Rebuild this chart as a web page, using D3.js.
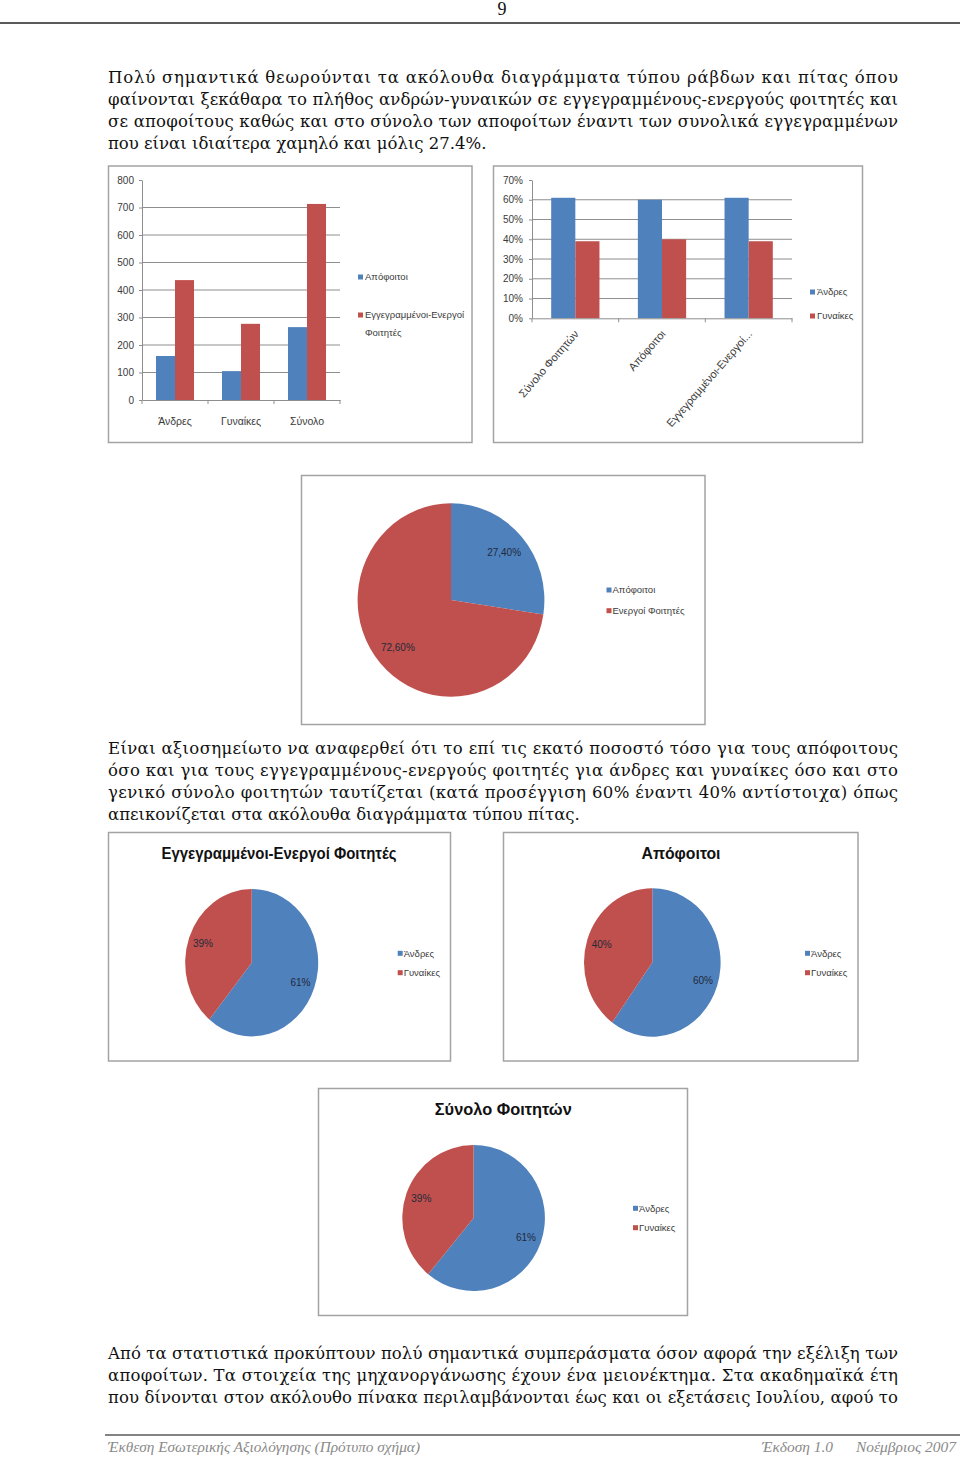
<!DOCTYPE html>
<html><head><meta charset="utf-8">
<script src="https://cdn.jsdelivr.net/npm/d3@7"></script>
<style>body{margin:0;background:#fff}svg{display:block}</style>
</head><body>
<svg id="page" width="960" height="1458"></svg>
<script>
// ---------- DATA ----------
const barCategories = ["Άνδρες", "Γυναίκες", "Σύνολο"];
const graduatesCount = [160, 105, 265];
const registeredCount = [436, 277, 713];
const countTicks = [0, 100, 200, 300, 400, 500, 600, 700, 800];
const countLegend = [["Απόφοιτοι"], ["Εγγεγραμμένοι-Ενεργοί", "Φοιτητές"]];

const shareCategories = ["Σύνολο Φοιτητών", "Απόφοιτοι", "Εγγεγραμμένοι-Ενεργοί..."];
const menShare = [61, 60, 61];
const womenShare = [39, 40, 39];
const shareTicks = [0, 10, 20, 30, 40, 50, 60, 70];
const sexLabels = ["Άνδρες", "Γυναίκες"];

const statusLabels = ["Απόφοιτοι", "Ενεργοί Φοιτητές"];
const statusShare = [27.4, 72.6];
const statusText = ["27,40%", "72,60%"];

const registeredSexShare = [61, 39];
const graduatesSexShare = [60, 40];
const totalSexShare = [61, 39];
const pieTitles = ["Εγγεγραμμένοι-Ενεργοί Φοιτητές", "Απόφοιτοι", "Σύνολο Φοιτητών"];

const paragraph1 = [
  "Πολύ σημαντικά θεωρούνται τα ακόλουθα διαγράμματα τύπου ράβδων και πίτας όπου",
  "φαίνονται ξεκάθαρα το πλήθος ανδρών-γυναικών σε εγγεγραμμένους-ενεργούς φοιτητές και",
  "σε αποφοίτους καθώς και στο σύνολο των αποφοίτων έναντι των συνολικά εγγεγραμμένων",
  "που είναι ιδιαίτερα χαμηλό και μόλις 27.4%."
];
const paragraph2 = [
  "Είναι αξιοσημείωτο να αναφερθεί ότι το επί τις εκατό ποσοστό τόσο για τους απόφοιτους",
  "όσο και για τους εγγεγραμμένους-ενεργούς φοιτητές για άνδρες και γυναίκες όσο και στο",
  "γενικό σύνολο φοιτητών ταυτίζεται (κατά προσέγγιση 60% έναντι 40% αντίστοιχα) όπως",
  "απεικονίζεται στα ακόλουθα διαγράμματα τύπου πίτας."
];
const paragraph3 = [
  "Από τα στατιστικά προκύπτουν πολύ σημαντικά συμπεράσματα όσον αφορά την εξέλιξη των",
  "αποφοίτων. Τα στοιχεία της μηχανοργάνωσης έχουν ένα μειονέκτημα. Στα ακαδημαϊκά έτη",
  "που δίνονται στον ακόλουθο πίνακα περιλαμβάνονται έως και οι εξετάσεις Ιουλίου, αφού το"
];
const pageNumber = "9";
const footerLeft = "Έκθεση Εσωτερικής Αξιολόγησης (Πρότυπο σχήμα)";
const footerVersion = "Έκδοση 1.0";
const footerDate = "Νοέμβριος 2007";

// ---------- STYLE ----------
const BLUE = "#4F81BD", RED = "#C0504D";
const GRID = "#8e8e8e", BORDER = "#a3a3a3", AXIS = "#8e8e8e", LABEL = "#3a3a3a";
const chartFont = "'Liberation Sans Narrow','Liberation Sans',Arial,sans-serif";
const bodyFont = "'DejaVu Serif',serif";

const svg = d3.select("#page");
svg.append("rect").attr("width", 960).attr("height", 1458).attr("fill", "#fff");

// ---------- PAGE HEADER / FOOTER ----------
svg.append("text").attr("x", 502).attr("y", 15).attr("text-anchor", "middle")
  .attr("font-family", "'Liberation Serif',serif").attr("font-size", 18).attr("fill", "#111").text(pageNumber);
svg.append("line").attr("x1", 0).attr("x2", 960).attr("y1", 23).attr("y2", 23)
  .attr("stroke", "#5a5a5a").attr("stroke-width", 2);

svg.append("line").attr("x1", 105).attr("x2", 960).attr("y1", 1435).attr("y2", 1435)
  .attr("stroke", "#5a5a5a").attr("stroke-width", 1.5);
function footerText(str, x, w) {
  const t = svg.append("text").attr("x", x).attr("y", 1452)
    .attr("font-family", "'Liberation Serif',serif").attr("font-style", "italic")
    .attr("font-size", 14).attr("fill", "#8a8a8a").text(str);
  t.attr("textLength", w).attr("lengthAdjust", "spacingAndGlyphs");
}
footerText(footerLeft, 108, 312);
footerText(footerVersion, 762, 71);
footerText(footerDate, 856, 100);

// ---------- BODY TEXT ----------
function paragraph(lines, y0, justifyLast) {
  lines.forEach((ln, i) => {
    const t = svg.append("text").attr("x", 108).attr("y", y0 + i * 22)
      .attr("font-family", bodyFont).attr("font-size", 16.5).attr("fill", "#111")
      .attr("xml:space", "preserve").text(ln);
    const last = i === lines.length - 1;
    if (!last || justifyLast) {
      const w = t.node().getComputedTextLength();
      t.attr("textLength", 790).attr("lengthAdjust", w > 790 ? "spacingAndGlyphs" : "spacing");
    }
  });
}
paragraph(paragraph1, 83, false);
paragraph(paragraph2, 754, false);
paragraph(paragraph3, 1359, true);

// ---------- HELPERS ----------
function frame(x, y, w, h) {
  svg.append("rect").attr("x", x).attr("y", y).attr("width", w).attr("height", h)
    .attr("fill", "#fff").attr("stroke", BORDER).attr("stroke-width", 1.5);
}
function legend(x, ys, labels, colors, textX) {
  labels.forEach((lab, i) => {
    svg.append("rect").attr("x", x).attr("y", ys[i] - 2.5).attr("width", 5).attr("height", 5).attr("fill", colors[i]);
    const lines = Array.isArray(lab) ? lab : [lab];
    lines.forEach((l, j) => {
      svg.append("text").attr("x", textX).attr("y", ys[i] + 3.3 + j * 17.5)
        .attr("font-family", chartFont).attr("font-size", 9.5).attr("fill", LABEL).text(l);
    });
  });
}

function barChart(o) {
  frame(o.box[0], o.box[1], o.box[2], o.box[3]);
  const x = d3.scaleBand().domain(o.cats).range([o.x0, o.x1]);
  const y = d3.scaleLinear().domain([0, d3.max(o.ticks)]).range([o.yb, o.yt]);
  const g = svg.append("g");
  // gridlines
  g.selectAll(".grid").data(o.ticks.filter(t => t > 0 && t < d3.max(o.ticks))).join("line")
    .attr("x1", o.x0).attr("x2", o.x1).attr("y1", d => y(d)).attr("y2", d => y(d))
    .attr("stroke", GRID).attr("stroke-width", 1);
  // bars
  const gw = x.bandwidth() * o.groupFrac;
  const inner = d3.scaleBand().domain(d3.range(o.series.length)).range([0, gw]);
  o.series.forEach((vals, si) => {
    g.selectAll(".b" + si).data(vals).join("rect")
      .attr("x", (d, i) => x(o.cats[i]) + (x.bandwidth() - gw) / 2 + inner(si))
      .attr("width", inner.bandwidth())
      .attr("y", d => y(d)).attr("height", d => y(0) - y(d))
      .attr("fill", o.colors[si]);
  });
  // y axis
  const ya = svg.append("g").attr("transform", `translate(${o.x0},0)`)
    .call(d3.axisLeft(y).tickValues(o.ticks).tickSize(3).tickSizeOuter(0).tickPadding(o.yPad).tickFormat(o.fmt));
  ya.select(".domain").attr("stroke", AXIS);
  ya.selectAll(".tick line").attr("stroke", AXIS);
  ya.selectAll("text").attr("font-family", chartFont).attr("font-size", 10).attr("fill", LABEL);
  // x axis
  const xa = svg.append("g").attr("transform", `translate(0,${o.yb})`)
    .call(d3.axisBottom(x).tickSize(0).tickPadding(o.xPad).tickSizeOuter(0));
  xa.select(".domain").attr("stroke", AXIS);
  xa.selectAll("text").attr("font-family", chartFont).attr("font-size", 10.5).attr("fill", LABEL);
  const bounds = o.cats.map(c => x(c)).concat([x.range()[1]]);
  xa.selectAll(".bt").data(bounds).join("line")
    .attr("x1", d => d).attr("x2", d => d).attr("y1", 0).attr("y2", 4).attr("stroke", AXIS);
  if (o.rotate) {
    xa.selectAll(".tick text")
      .attr("text-anchor", "end").attr("dy", "0").attr("x", 0).attr("y", 0)
      .attr("font-size", 11)
      .attr("transform", "translate(4,16) rotate(-49)");
  }
  return { x, y };
}

// ---------- CHART 1: counts ----------
barChart({
  box: [108.5, 166, 363.5, 276.5],
  cats: barCategories, series: [graduatesCount, registeredCount], colors: [BLUE, RED],
  ticks: countTicks, x0: 142, x1: 340, yt: 180, yb: 400, groupFrac: 0.576,
  yPad: 5, xPad: 18, fmt: d => d
});
legend(358, [277, 315], countLegend, [BLUE, RED], 365);

// ---------- CHART 2: shares ----------
barChart({
  box: [493.5, 166, 369, 276.5],
  cats: shareCategories, series: [menShare, womenShare], colors: [BLUE, RED],
  ticks: shareTicks, x0: 532, x1: 792, yt: 180, yb: 318.3, groupFrac: 0.557,
  yPad: 6, xPad: 10, fmt: d => d + "%", rotate: true
});
legend(810, [292, 316], sexLabels, [BLUE, RED], 817);

// ---------- PIES ----------
function pie(o) {
  if (o.box) frame(o.box[0], o.box[1], o.box[2], o.box[3]);
  if (o.title) {
    svg.append("text").attr("x", o.titleX).attr("y", o.titleY).attr("text-anchor", "middle")
      .attr("font-family", chartFont).attr("font-weight", "bold").attr("font-size", 17)
      .attr("fill", "#111").attr("textLength", o.titleW).attr("lengthAdjust", "spacingAndGlyphs")
      .text(o.title);
  }
  const arcs = d3.pie().sort(null).value(d => d)(o.values);
  const arc = d3.arc().innerRadius(0).outerRadius(o.rx);
  const k = o.ry / o.rx;
  const g = svg.append("g").attr("transform", `translate(${o.cx},${o.cy}) scale(1,${k})`);
  g.selectAll("path").data(arcs).join("path").attr("d", arc).attr("fill", (d, i) => o.colors[i]);
  const lab = d3.arc().innerRadius(o.rx * o.labR).outerRadius(o.rx * o.labR);
  arcs.forEach((a, i) => {
    const [lx, ly] = lab.centroid(a);
    svg.append("text").attr("x", o.cx + lx).attr("y", o.cy + ly * k)
      .attr("text-anchor", "middle").attr("dominant-baseline", "central")
      .attr("font-family", chartFont).attr("font-size", 10).attr("fill", "#1f2a3a")
      .text(o.texts[i]);
  });
  legend(o.legX, o.legY, o.labels, o.colors, o.legX + 6);
}

pie({
  box: [301.5, 475.5, 403.5, 249], cx: 451, cy: 600, rx: 93.4, ry: 96.7, labR: 0.75,
  values: statusShare, texts: statusText, colors: [BLUE, RED], labels: statusLabels,
  legX: 606.5, legY: [590, 610.7]
});
pie({
  box: [108.5, 832.5, 342, 228.5], title: pieTitles[0], titleX: 279, titleY: 859, titleW: 235,
  cx: 251.7, cy: 962.7, rx: 66.5, ry: 73.7, labR: 0.78,
  values: registeredSexShare, texts: registeredSexShare.map(d => d + "%"),
  colors: [BLUE, RED], labels: sexLabels, legX: 397.7, legY: [953.3, 972.7]
});
pie({
  box: [503.5, 832.5, 354.5, 228.5], title: pieTitles[1], titleX: 681, titleY: 859, titleW: 79,
  cx: 652.3, cy: 962.5, rx: 68.3, ry: 74.2, labR: 0.78,
  values: graduatesSexShare, texts: graduatesSexShare.map(d => d + "%"),
  colors: [BLUE, RED], labels: sexLabels, legX: 805, legY: [953.3, 972.7]
});
pie({
  box: [318.5, 1088.5, 369, 227], title: pieTitles[2], titleX: 503.3, titleY: 1115, titleW: 137,
  cx: 473.6, cy: 1218, rx: 71.3, ry: 73, labR: 0.78,
  values: totalSexShare, texts: totalSexShare.map(d => d + "%"),
  colors: [BLUE, RED], labels: sexLabels, legX: 633, legY: [1208.3, 1227.7]
});
</script>
</body></html>
